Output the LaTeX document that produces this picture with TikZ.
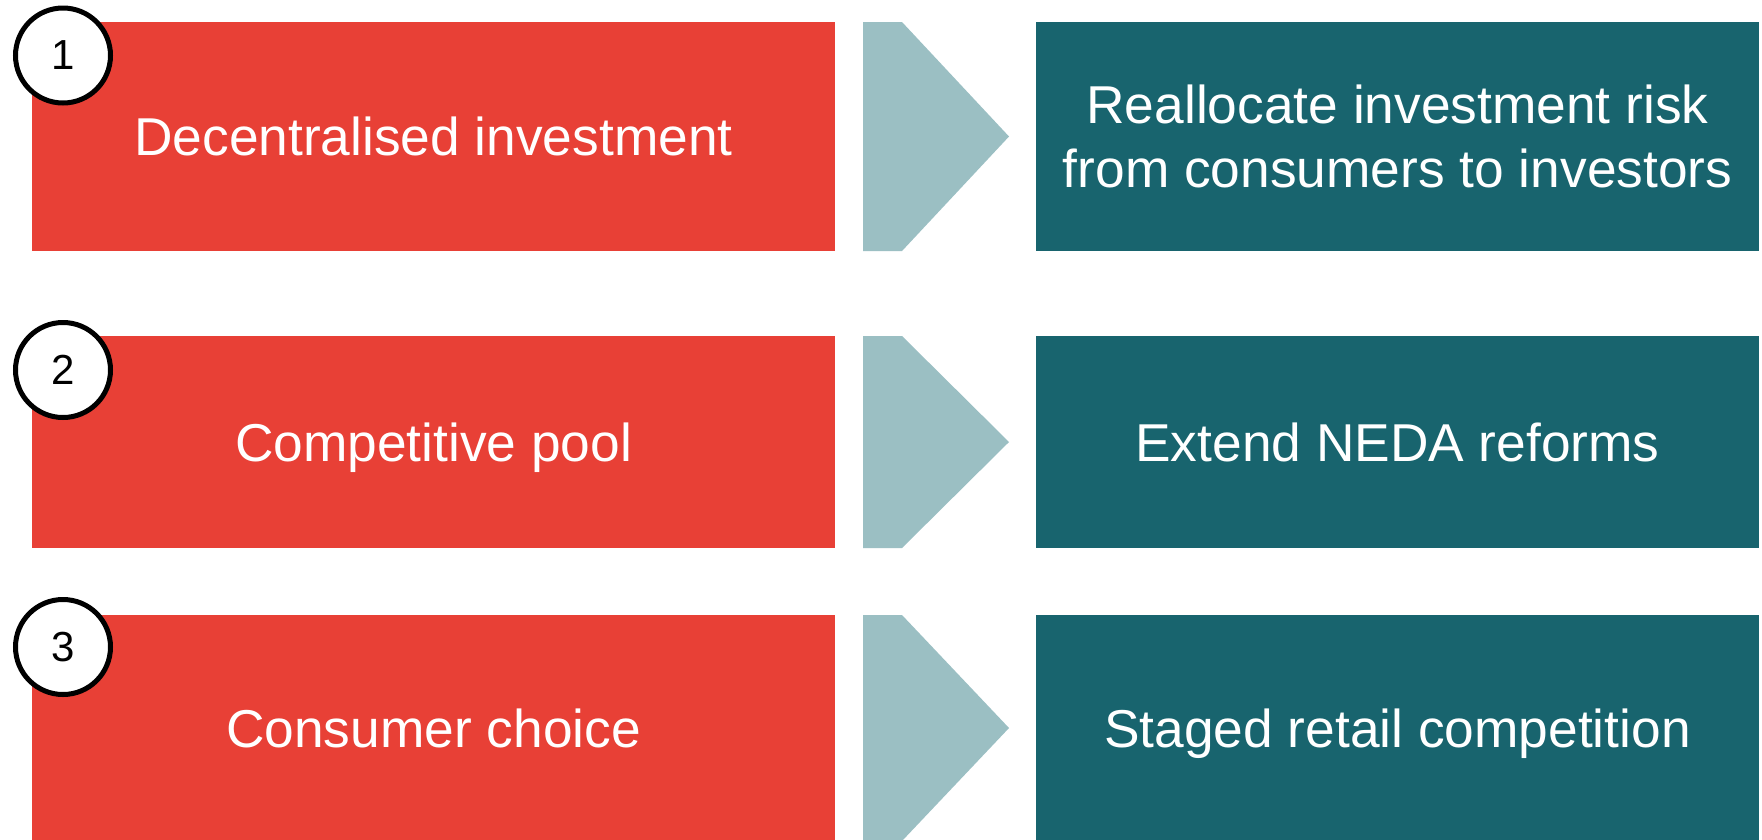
\documentclass[tikz,border=0pt]{standalone}
\usepackage{fontspec}
\setmainfont{Liberation Sans}
\definecolor{cred}{RGB}{232,64,54}
\definecolor{cteal}{RGB}{24,100,110}
\definecolor{clight}{RGB}{155,191,195}
\tikzset{
  boxbase/.style={text=white, anchor=north west, inner sep=0pt, outer sep=0pt, align=center, font=\fontsize{53.3pt}{64pt}\selectfont, text height=38pt, text depth=0pt},
  redbox/.style={boxbase, fill=cred, minimum width=803pt},
  tealbox/.style={boxbase, fill=cteal, minimum width=723pt},
  chev/.style={fill=clight, draw=none},
  numcirc/.style={circle, draw=black, line width=5pt, fill=white, minimum size=95pt, inner sep=0pt, font=\fontsize{42pt}{50pt}\selectfont}
}
\begin{document}
\begin{tikzpicture}[x=1pt,y=-1pt]
\clip (0,0) rectangle (1762,839);
\fill[white] (0,0) rectangle (1762,839);
% row 1
\node[redbox, minimum height=229pt] (r1) at (32,22) {Decentralised investment};
\node[tealbox, minimum height=229pt, text height=102pt] (t1) at (1036,22) {Reallocate investment risk\\from consumers to investors};
\fill[chev] (863,22) -- (902,22) -- (1009,136.5) -- (902,251) -- (863,251) -- cycle;
% row 2
\node[redbox, minimum height=212pt] (r2) at (32,336) {Competitive pool};
\node[tealbox, minimum height=212pt] (t2) at (1036,336) {Extend NEDA reforms};
\fill[chev] (863,336) -- (902,336) -- (1009,442) -- (902,548) -- (863,548) -- cycle;
% row 3
\node[redbox, minimum height=226pt] (r3) at (32,615) {Consumer choice};
\node[tealbox, minimum height=226pt] (t3) at (1036,615) {Staged retail competition};
\fill[chev] (863,615) -- (902,615) -- (1009,728) -- (902,841) -- (863,841) -- cycle;
% number circles
\node[numcirc] (n1) at (63,55.5) {1};
\node[numcirc] (n2) at (63,370) {2};
\node[numcirc] (n3) at (63,647) {3};
\end{tikzpicture}
\end{document}
